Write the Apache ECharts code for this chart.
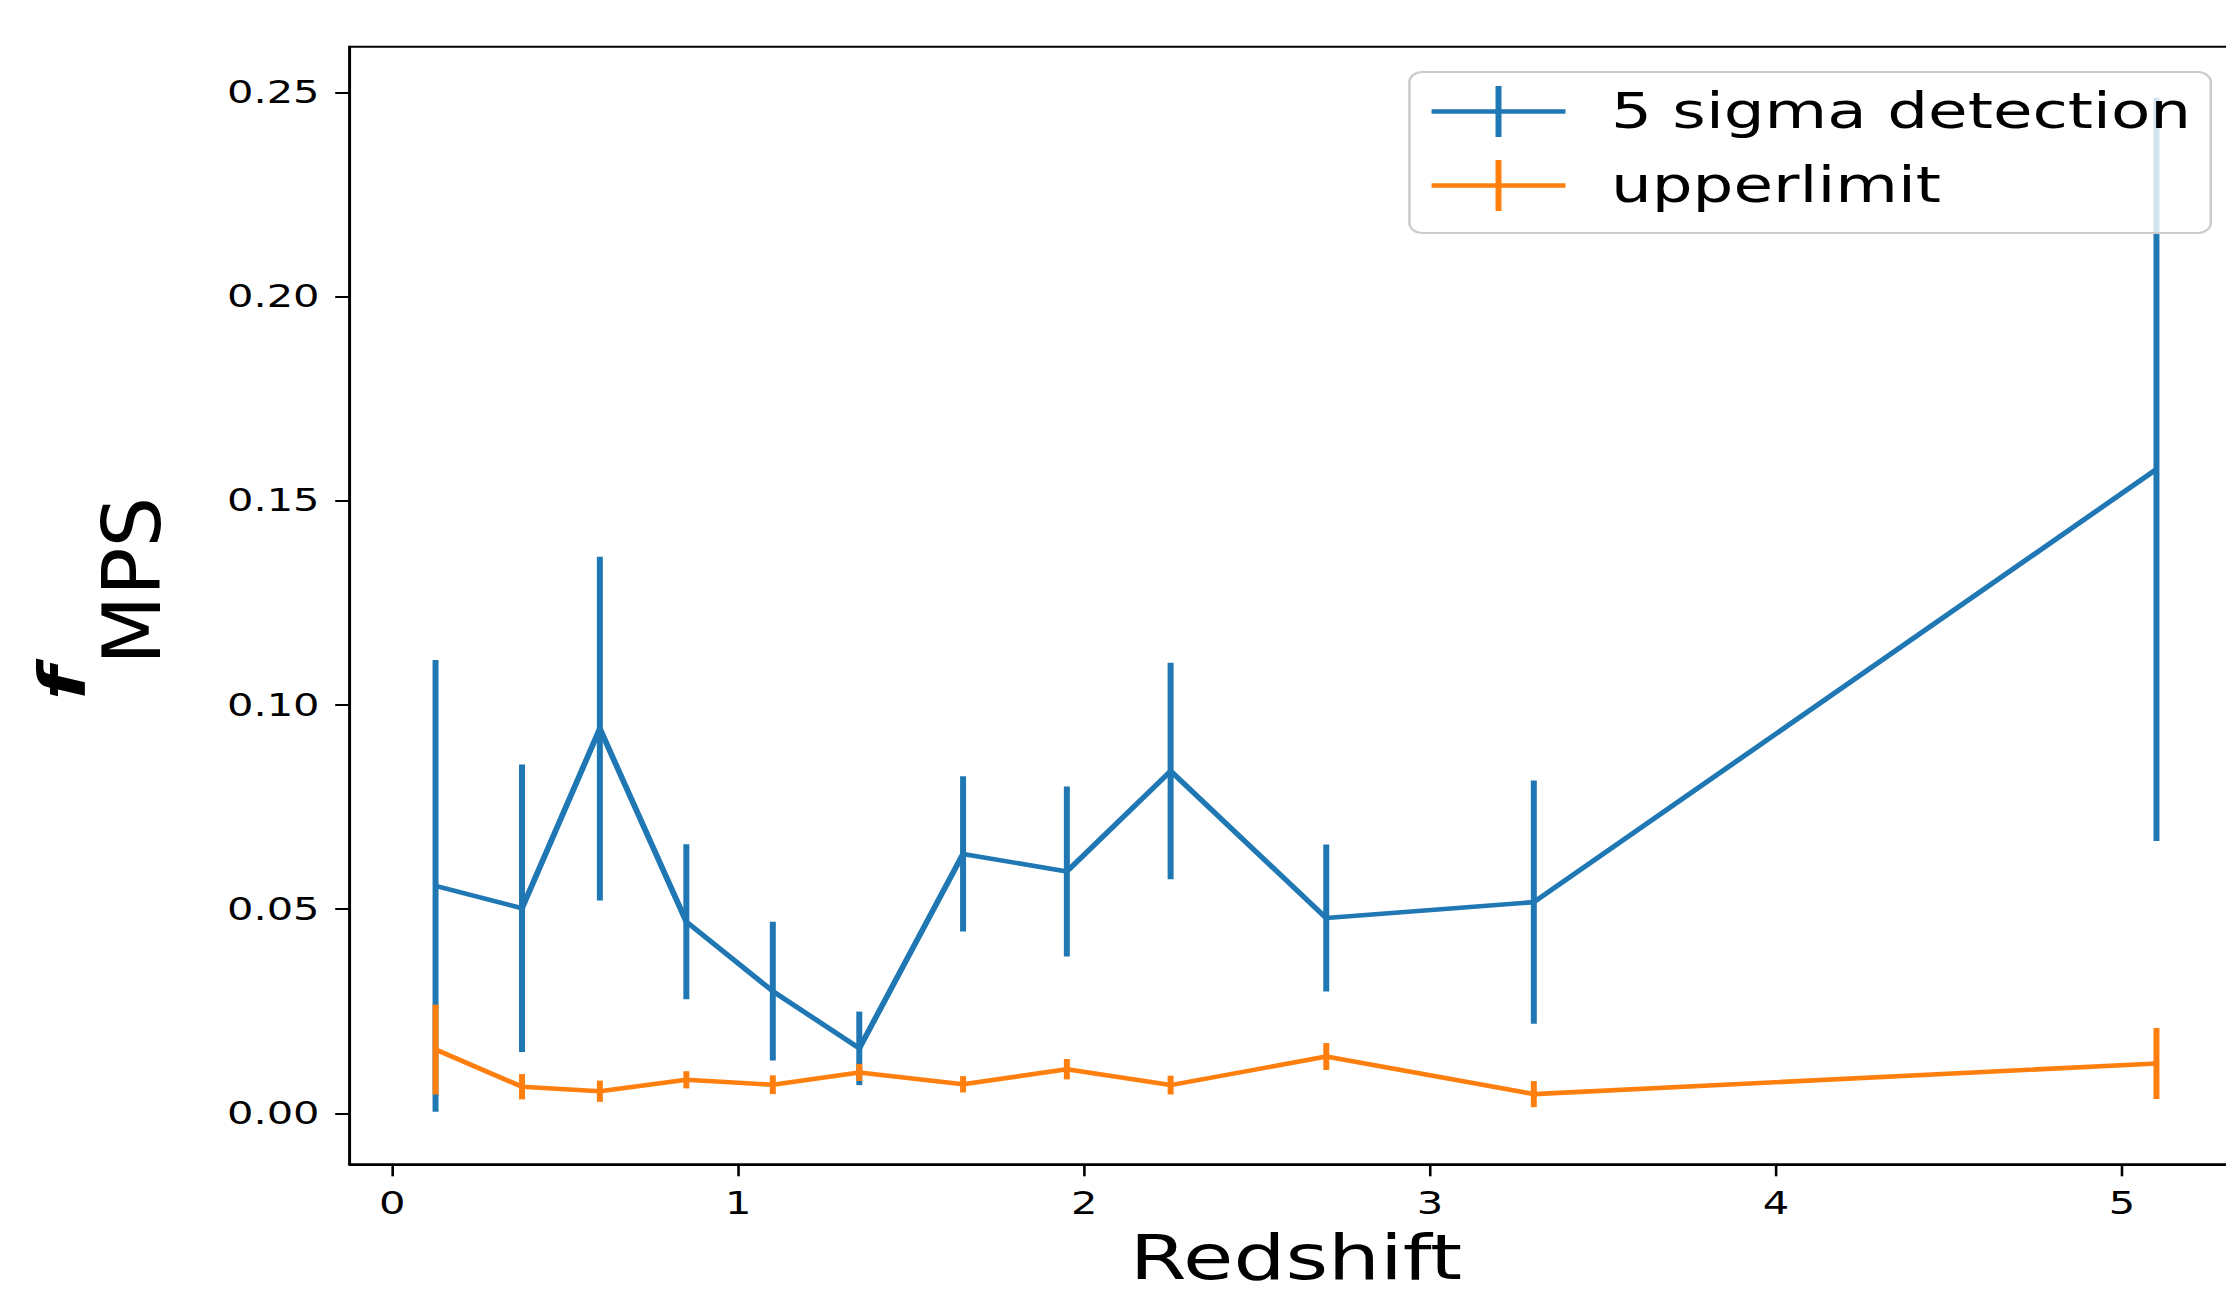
<!DOCTYPE html>
<html>
<head>
<meta charset="utf-8">
<script src="https://cdn.jsdelivr.net/npm/echarts@6/dist/echarts.min.js"></script>
<style>
html,body{margin:0;padding:0;background:#fff;overflow:hidden;width:2226px;height:1294px;}
#c{width:1712px;height:1294px;transform:scaleX(1.30023);transform-origin:0 0;}
</style>
</head>
<body>
<div id="c"></div>
<script>
// ---- data ----
const redshift = [0.125, 0.375, 0.6, 0.85, 1.1, 1.35, 1.65, 1.95, 2.25, 2.7, 3.3, 5.1];
const detectValues = [0.0557, 0.0502, 0.0942, 0.0469, 0.0299, 0.0159, 0.0635, 0.0592, 0.0838, 0.0478, 0.0517, 0.1577];
const detectErrors = [0.0553, 0.0352, 0.0421, 0.0190, 0.0170, 0.0090, 0.0190, 0.0208, 0.0265, 0.0180, 0.0298, 0.0910];
const upperValues = [0.0156, 0.0065, 0.0054, 0.0082, 0.0070, 0.0100, 0.0071, 0.0108, 0.0069, 0.0139, 0.0047, 0.0122];
const upperErrors = [0.0110, 0.0031, 0.0026, 0.0021, 0.0023, 0.0021, 0.0020, 0.0025, 0.0023, 0.0033, 0.0032, 0.0087];
const xTicks = [0, 1, 2, 3, 4, 5];
const yTicks = [0, 0.05, 0.10, 0.15, 0.20, 0.25];
const seriesNames = ['5 sigma detection', 'upperlimit'];
const colors = ['#1f77b4', '#ff7f0e'];

const FONT = 'DejaVu Sans';
const SX = 1.30023;
const LW = 4.6;

function errSeries(name, vals, errs, color) {
  return {
    name: name, type: 'custom',
    data: redshift.map((x, i) => [x, vals[i], errs[i]]),
    encode: {x: 0, y: 1},
    silent: true,
    itemStyle: {color: color},
    renderItem: function (params, api) {
      const x = api.value(0), y = api.value(1), e = api.value(2);
      const p1 = api.coord([x, y - e]);
      const p2 = api.coord([x, y + e]);
      return {type: 'line', shape: {x1: p1[0], y1: p1[1], x2: p2[0], y2: p2[1]},
              style: {stroke: color, lineWidth: LW, lineCap: 'butt'}};
    }
  };
}
function lineSeries(name, vals, color) {
  return {
    name: name, type: 'line',
    data: redshift.map((x, i) => [x, vals[i]]),
    showSymbol: false, symbol: 'none', silent: true,
    lineStyle: {color: color, width: LW, join: 'round', cap: 'butt'},
    itemStyle: {color: color}
  };
}

const crossIcon = 'path://M0,23.2h103v4.6H0z M49.2,0h4.6v51h-4.6z';

const chart = echarts.init(document.getElementById('c'), null, {renderer: 'svg'});
chart.setOption({
  animation: false,
  backgroundColor: '#fff',
  textStyle: {fontFamily: FONT},
  grid: {left: 268.8, top: 46.7, width: 1455.9, height: 1117.6, show: true,
         outerBoundsMode: 'none', containLabel: false,
         borderColor: '#000', borderWidth: 2, backgroundColor: 'transparent'},
  xAxis: {
    type: 'value', min: -0.12375, max: 5.34875,
    name: 'Redshift', nameLocation: 'middle', nameGap: 68,
    nameTextStyle: {fontSize: 63, lineHeight: 50, color: '#000', fontFamily: FONT},
    axisLine: {show: true, onZero: false, lineStyle: {color: '#000', width: 2}},
    axisTick: {show: true, length: 12, lineStyle: {color: '#000', width: 2}, customValues: xTicks},
    axisLabel: {show: true, fontSize: 32, color: '#000', margin: 23, fontFamily: FONT,
                customValues: xTicks, formatter: v => String(v)},
    splitLine: {show: false}
  },
  yAxis: {
    type: 'value', min: -0.01249, max: 0.26117,
    axisLine: {show: true, onZero: false, lineStyle: {color: '#000', width: 2}},
    axisTick: {show: true, length: 11, lineStyle: {color: '#000', width: 2}, customValues: yTicks},
    axisLabel: {show: true, fontSize: 32, color: '#000', margin: 23, fontFamily: FONT,
                customValues: yTicks, formatter: v => v.toFixed(2)},
    splitLine: {show: false}
  },
  legend: {
    show: true, orient: 'vertical', left: 1084, top: 72,
    padding: [14, 15, 22, 17],
    itemWidth: 103, itemHeight: 51, itemGap: 23,
    backgroundColor: 'rgba(255,255,255,0.8)',
    borderColor: '#cccccc', borderWidth: 2, borderRadius: 10,
    textStyle: {fontSize: 49.5, color: '#000', fontFamily: FONT, padding: [0, 0, 0, 30]},
    selectedMode: false,
    data: seriesNames.map((n, i) => ({name: n, icon: crossIcon,
      itemStyle: {color: colors[i], borderWidth: 0}}))
  },
  graphic: [
    {type: 'text', x: 101.8, y: 664.8, rotation: Math.PI / 2, scaleY: 1 / SX, silent: true,
     style: {text: 'MPS', fontSize: 80, fontFamily: FONT, fill: '#000', align: 'left', verticalAlign: 'middle'}},
    {type: 'text', x: 48.4, y: 700, rotation: Math.PI / 2, scaleX: 1.2, scaleY: 1 / SX, silent: true,
     style: {text: 'f', fontSize: 64, fontFamily: FONT, fontStyle: 'italic', fontWeight: 'bold', fill: '#000', align: 'left', verticalAlign: 'middle'}}
  ],
  series: [
    errSeries(seriesNames[0], detectValues, detectErrors, colors[0]),
    lineSeries(seriesNames[0], detectValues, colors[0]),
    errSeries(seriesNames[1], upperValues, upperErrors, colors[1]),
    lineSeries(seriesNames[1], upperValues, colors[1])
  ]
});
</script>
</body>
</html>
